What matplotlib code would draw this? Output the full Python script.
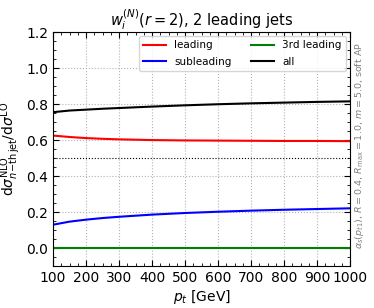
import numpy as np
import matplotlib
matplotlib.use("Agg")
import matplotlib.pyplot as plt
from matplotlib.ticker import AutoMinorLocator

pt = [100, 150, 200, 250, 300, 400, 500, 600, 700, 800, 900, 1000]
leading = [0.625, 0.617, 0.611, 0.607, 0.604, 0.600, 0.598, 0.597, 0.596, 0.595, 0.595, 0.594]
subleading = [0.130, 0.147, 0.158, 0.167, 0.174, 0.186, 0.195, 0.202, 0.208, 0.213, 0.217, 0.221]
third = [0.0] * len(pt)
total = [l + s for l, s in zip(leading, subleading)]

fig = plt.figure(figsize=(3.74, 3.08), dpi=100)
ax = fig.add_axes([0.142, 0.136, 0.794, 0.76])

ax.plot(pt, leading, color="red", lw=1.5, label="leading")
ax.plot(pt, subleading, color="blue", lw=1.5, label="subleading")
ax.plot(pt, third, color="green", lw=1.5, label="3rd leading")
ax.plot(pt, total, color="black", lw=1.5, label="all")
ax.axhline(0.5, color="black", ls=":", lw=0.8)

ax.set_xlim(100, 1000)
ax.set_ylim(-0.1, 1.2)
ax.set_xticks(np.arange(100, 1001, 100))
ax.set_yticks(np.arange(0.0, 1.21, 0.2))
ax.xaxis.set_minor_locator(AutoMinorLocator(4))
ax.yaxis.set_minor_locator(AutoMinorLocator(4))
ax.tick_params(which="both", direction="in", top=True, right=True, labelsize=10)
ax.tick_params(which="major", length=4)
ax.tick_params(which="minor", length=2)
ax.grid(True, ls=":", color="0.7", lw=0.8)

ax.set_xlabel(r"$p_t$ [GeV]", fontsize=10, labelpad=2)
ax.set_ylabel(r"$\mathrm{d}\sigma^{\mathrm{NLO}}_{n\!-\!\mathrm{th\,jet}}/\mathrm{d}\sigma^{\mathrm{LO}}$",
              fontsize=10, labelpad=2)
ax.set_title(r"$w_i^{(N)}(r=2)$, 2 leading jets", fontsize=10.5, pad=4)

ax.legend(ncol=2, loc="upper right", fontsize=7.5, frameon=True, handlelength=2.2,
          columnspacing=1.9, labelspacing=0.6, borderaxespad=0.4)

fig.text(0.962, 0.526, r"$\alpha_s(p_{t1})$, $R=0.4$, $R_{\max}=1.0$, $m=5.0$, soft AP",
         rotation=90, color="gray", fontsize=6.8, ha="center", va="center")

fig.savefig("out.png", dpi=100)
